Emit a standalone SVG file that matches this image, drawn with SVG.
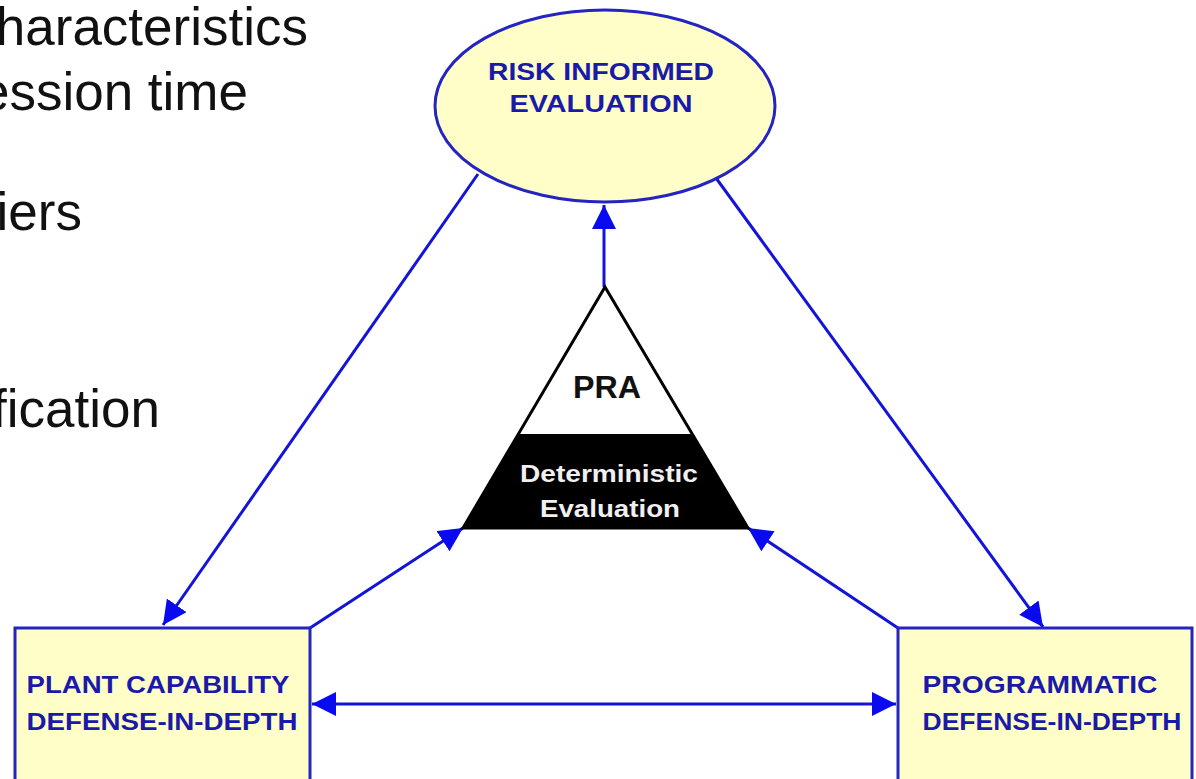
<svg xmlns="http://www.w3.org/2000/svg" width="1196" height="779" viewBox="0 0 1196 779">
<style>
.bullet{font-family:"Liberation Sans",Arial,sans-serif;font-size:53px;fill:#111;}
.lbl{font-family:"Liberation Sans",Arial,sans-serif;font-weight:bold;font-size:24px;fill:#1a1aa8;text-anchor:middle;}
.node{fill:#fffdc8;stroke:#2424c0;stroke-width:3;}
.conn{stroke:#1414d8;stroke-width:3;fill:none;}
</style>
<defs>
<marker id="ah" markerUnits="userSpaceOnUse" markerWidth="26" markerHeight="26" refX="24" refY="12" orient="auto-start-reverse" viewBox="0 0 26 26">
<path d="M0,0 L24,12 L0,24 z" fill="#0a0af0"/>
</marker>
</defs>
<rect width="1196" height="779" fill="#ffffff"/>
<g id="bullets">
<text class="bullet" x="308" y="45" text-anchor="end">haracteristics</text>
<text class="bullet" x="248" y="110" text-anchor="end">ession time</text>
<text class="bullet" x="82" y="230" text-anchor="end">iers</text>
<text class="bullet" x="160" y="427" text-anchor="end">fication</text>
</g>
<g id="connectors">
<line class="conn" x1="478" y1="174" x2="163" y2="625" marker-end="url(#ah)"/>
<line class="conn" x1="716" y1="178" x2="1043" y2="627" marker-end="url(#ah)"/>
<line class="conn" x1="604" y1="287" x2="604" y2="205" marker-end="url(#ah)"/>
<line class="conn" x1="310" y1="628" x2="463" y2="528" marker-end="url(#ah)"/>
<line class="conn" x1="898" y1="628" x2="748" y2="528" marker-end="url(#ah)"/>
<line class="conn" x1="312" y1="704" x2="896" y2="704" marker-start="url(#ah)" marker-end="url(#ah)"/>
</g>
<g id="risk-informed">
<ellipse class="node" cx="605" cy="106" rx="170" ry="96"/>
<text class="lbl" x="601" y="80" textLength="226" lengthAdjust="spacingAndGlyphs">RISK INFORMED</text>
<text class="lbl" x="601" y="112" textLength="183" lengthAdjust="spacingAndGlyphs">EVALUATION</text>
</g>
<g id="pra-triangle">
<polygon points="605,287 748,528 463,528" fill="#ffffff" stroke="#000" stroke-width="3" stroke-linejoin="miter"/>
<polygon points="518,434 692,434 748,528 463,528" fill="#000000"/>
<text x="607" y="398" text-anchor="middle" font-family="'Liberation Sans',Arial,sans-serif" font-weight="bold" font-size="31" fill="#111" textLength="68" lengthAdjust="spacingAndGlyphs">PRA</text>
<text x="609" y="482" text-anchor="middle" font-family="'Liberation Sans',Arial,sans-serif" font-weight="bold" font-size="23" fill="#f0f0f0" textLength="178" lengthAdjust="spacingAndGlyphs">Deterministic</text>
<text x="610" y="517" text-anchor="middle" font-family="'Liberation Sans',Arial,sans-serif" font-weight="bold" font-size="23" fill="#f0f0f0" textLength="140" lengthAdjust="spacingAndGlyphs">Evaluation</text>
</g>
<g id="plant-capability">
<rect class="node" x="15" y="628" width="295" height="160"/>
<text class="lbl" x="158" y="693" textLength="263" lengthAdjust="spacingAndGlyphs">PLANT CAPABILITY</text>
<text class="lbl" x="162" y="730" textLength="271" lengthAdjust="spacingAndGlyphs">DEFENSE-IN-DEPTH</text>
</g>
<g id="programmatic">
<rect class="node" x="898" y="628" width="294" height="160"/>
<text class="lbl" x="1040" y="693" textLength="235" lengthAdjust="spacingAndGlyphs">PROGRAMMATIC</text>
<text class="lbl" x="1052" y="730" textLength="259" lengthAdjust="spacingAndGlyphs">DEFENSE-IN-DEPTH</text>
</g>
</svg>
